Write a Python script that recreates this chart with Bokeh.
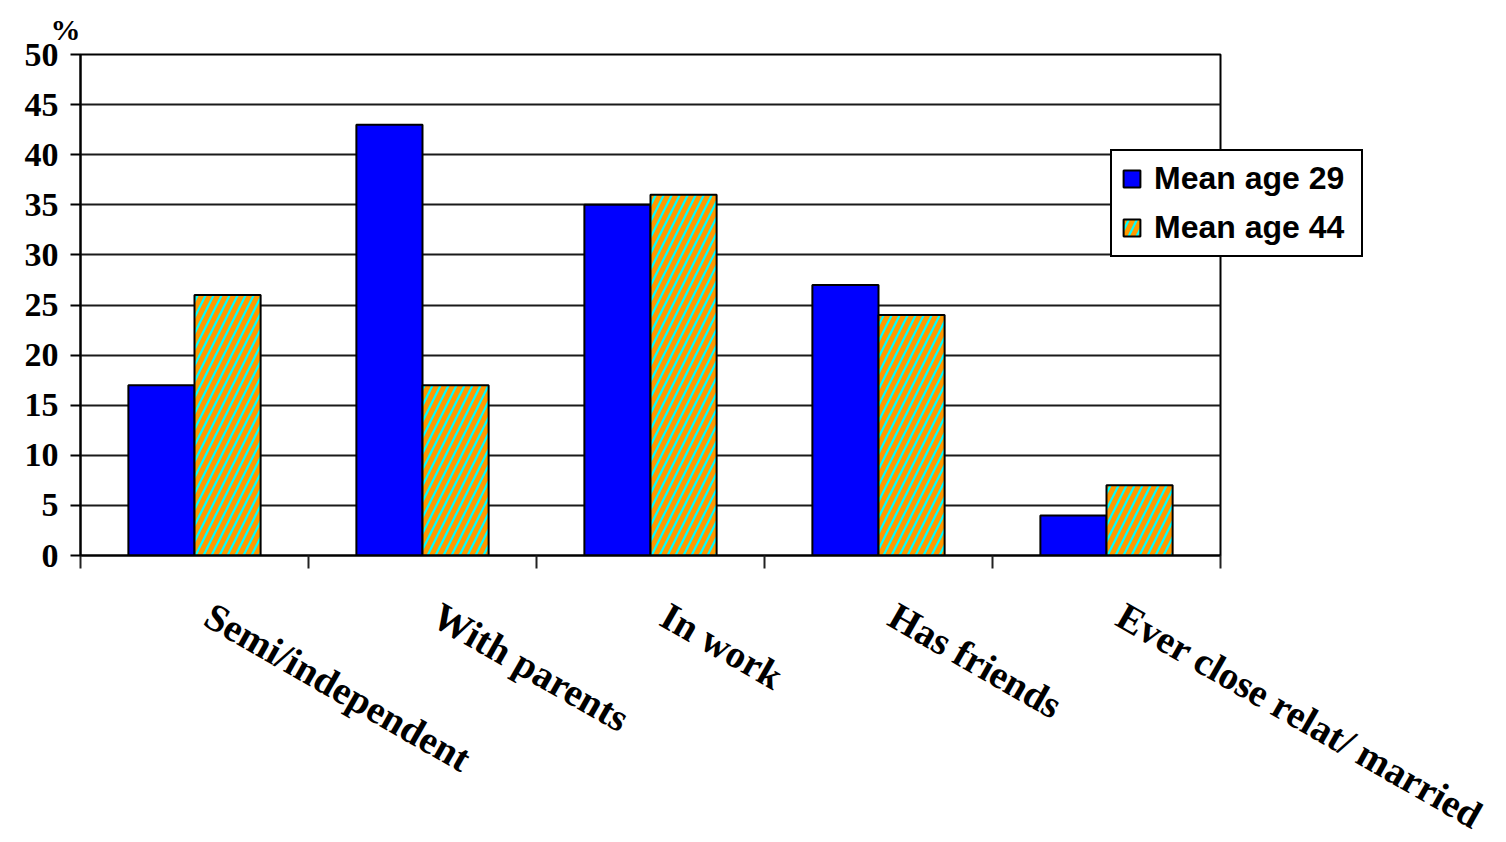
from bokeh.plotting import figure
from bokeh.models import (ColumnDataSource, Range1d, LinearAxis, FixedTicker,
                          Legend, LegendItem, Title)
from bokeh.transform import dodge
from bokeh.embed import file_html
from bokeh.resources import INLINE

# Outcome categories and percentages for the two age groups
categories = ["Semi/independent", "With parents", "In work", "Has friends",
              "Ever close relat/ married"]
mean_age_29 = [17, 43, 35, 27, 4]
mean_age_44 = [26, 17, 36, 24, 7]
y_ticks = [0, 5, 10, 15, 20, 25, 30, 35, 40, 45, 50]

n = len(categories)
centers = [i + 0.5 for i in range(n)]          # middle of each category slot
source = ColumnDataSource(dict(pos=centers, cat=categories,
                               a29=mean_age_29, a44=mean_age_44))

SERIF = "Liberation Serif"
SANS = "Liberation Sans"

p = figure(x_range=Range1d(0, n), y_range=Range1d(0, 50),
           frame_width=1140, frame_height=501,
           min_border_left=80, min_border_right=286,
           min_border_top=54, min_border_bottom=287,
           x_axis_location=None, y_axis_location=None,
           output_backend="svg", toolbar_location=None,
           background_fill_color="white", border_fill_color="white")

bar_w = 0.29
r29 = p.vbar(x=dodge("pos", -bar_w / 2), top="a29", width=bar_w,
             source=source, fill_color="#0000FF", line_color="black", line_width=2)
r44 = p.vbar(x=dodge("pos", bar_w / 2), top="a44", width=bar_w,
             source=source, fill_color="#00FFFF", line_color="black", line_width=2,
             hatch_pattern="/", hatch_color="#FF9900", hatch_scale=16, hatch_weight=5)

# Horizontal grid lines and frame
p.xgrid.visible = False
p.ygrid.ticker = FixedTicker(ticks=y_ticks)
p.ygrid.grid_line_color = "#1a1a1a"
p.ygrid.grid_line_width = 2
p.outline_line_color = "black"
p.outline_line_width = 2

# Value axis
yax = LinearAxis(ticker=FixedTicker(ticks=y_ticks))
yax.major_tick_out = 10
yax.major_tick_in = 0
yax.minor_tick_line_color = None
yax.axis_line_width = 2
yax.major_tick_line_width = 2
yax.major_label_text_font = SERIF
yax.major_label_text_font_style = "bold"
yax.major_label_text_font_size = "34px"
yax.major_label_text_color = "black"
yax.major_label_standoff = 12
p.add_layout(yax, "left")

# Tick marks at the category boundaries (no labels of their own)
edge_ax = LinearAxis(ticker=FixedTicker(ticks=list(range(n + 1))))
edge_ax.major_tick_out = 13
edge_ax.major_tick_in = 0
edge_ax.major_tick_line_width = 2
edge_ax.major_tick_line_color = "#222222"
edge_ax.minor_tick_line_color = None
edge_ax.axis_line_width = 2
edge_ax.axis_line_color = "black"
edge_ax.major_label_text_font_size = "2px"
edge_ax.major_label_text_color = None
edge_ax.major_label_standoff = 0
p.add_layout(edge_ax, "below")

# Rotated category names, starting just right of each slot centre
label_nudge = 0.06
label_ticks = [c + label_nudge for c in centers]
cat_ax = LinearAxis(ticker=FixedTicker(ticks=label_ticks),
                    major_label_overrides={t: name for t, name in zip(label_ticks, categories)})
cat_ax.axis_line_color = None
cat_ax.major_tick_line_color = None
cat_ax.minor_tick_line_color = None
cat_ax.major_label_orientation = -0.52
cat_ax.major_label_text_font = SERIF
cat_ax.major_label_text_font_style = "bold"
cat_ax.major_label_text_font_size = "39px"
cat_ax.major_label_text_color = "black"
cat_ax.major_label_standoff = 38
p.add_layout(cat_ax, "below")

# Unit marker above the value axis
p.add_layout(Title(text="%", align="left", offset=-30, standoff=17,
                   text_font=SERIF, text_font_style="bold",
                   text_font_size="30px", text_color="black"), "above")

legend = Legend(items=[LegendItem(label="Mean age 29", renderers=[r29]),
                       LegendItem(label="Mean age 44", renderers=[r44])],
                location=(-110, 298), orientation="vertical")
legend.label_text_font = SANS
legend.label_text_font_style = "bold"
legend.label_text_font_size = "32px"
legend.label_text_color = "black"
legend.glyph_width = 21
legend.glyph_height = 21
legend.label_standoff = 12
legend.label_width = 198
legend.padding = 9
legend.spacing = 12
legend.margin = 0
legend.border_line_color = "black"
legend.border_line_alpha = 1
legend.border_line_width = 2
legend.background_fill_alpha = 1
p.add_layout(legend, "right")

open("out.html", "w").write(file_html(p, INLINE))
